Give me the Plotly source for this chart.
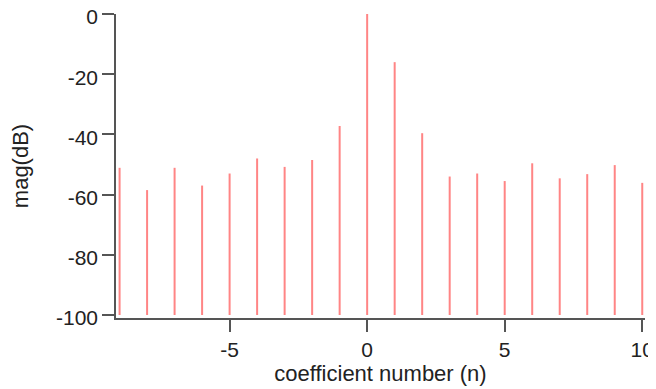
import plotly.graph_objects as go

n_values = [-9, -8, -7, -6, -5, -4, -3, -2, -1, 0, 1, 2, 3, 4, 5, 6, 7, 8, 9, 10]
mag_db = [-51.1, -58.5, -51.1, -57.0, -53.0, -48.0, -50.8, -48.5, -37.2, 0.0,
          -16.0, -39.6, -54.0, -53.0, -55.5, -49.6, -54.6, -53.2, -50.2, -56.1]
stem_base = -100
x_ticks = [-5, 0, 5, 10]
y_ticks = [0, -20, -40, -60, -80, -100]

xs, ys = [], []
for n, v in zip(n_values, mag_db):
    xs += [n, n, None]
    ys += [stem_base, v, None]

fig = go.Figure()
fig.add_trace(go.Scatter(x=xs, y=ys, mode="lines",
                         line=dict(color="#ff8585", width=2),
                         hoverinfo="skip", showlegend=False, cliponaxis=False))

font = "Liberation Sans, Arial, Helvetica, sans-serif"
# page body has an 8px default margin; margins compensate so the plot area lands in place
fig.update_layout(
    width=656, height=389,
    margin=dict(l=108, r=19, t=6, b=79),
    paper_bgcolor="white", plot_bgcolor="white",
    font=dict(family=font, size=21, color="#222222"),
    showlegend=False,
)
fig.update_xaxes(
    range=[-9.13, 10.1], tickvals=x_ticks, ticktext=[str(t) for t in x_ticks],
    showgrid=False, zeroline=False, showline=True, linecolor="#555555", linewidth=1.5,
    ticks="outside", ticklen=12, tickwidth=1.5, tickcolor="#555555",
    tickfont=dict(size=21), automargin=False, ticklabeloverflow="allow",
    title=dict(text="coefficient number (n)", font=dict(size=22), standoff=2),
)
fig.update_yaxes(
    range=[-101, 0], tickvals=y_ticks, ticktext=[str(t) for t in y_ticks],
    showgrid=False, zeroline=False, showline=True, linecolor="#555555", linewidth=1.5,
    ticks="outside", ticklen=12, tickwidth=1.5, tickcolor="#555555",
    tickfont=dict(size=21), automargin=False, ticklabeloverflow="allow",
    ticklabelshift=3,
    title=dict(text="mag(dB)", font=dict(size=22), standoff=22),
)
fig.write_html("out.html")
